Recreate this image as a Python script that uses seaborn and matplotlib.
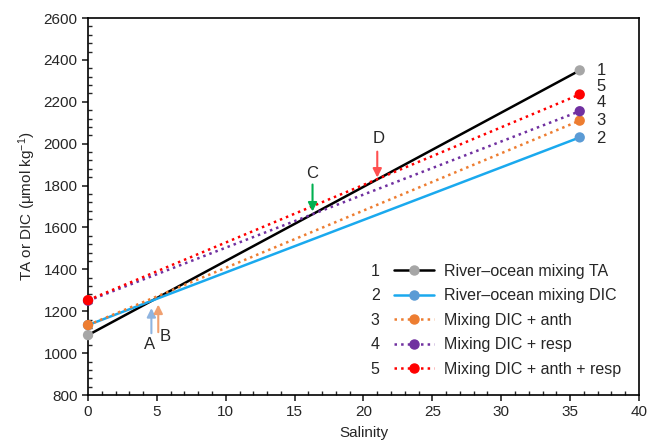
import pandas as pd
import matplotlib.pyplot as plt
import seaborn as sns
from matplotlib.lines import Line2D
from matplotlib.ticker import MultipleLocator

# End-member values (salinity 0 and ~35.7)
salinity = [0, 35.7]
ta = [1086, 2350]
dic = [1134, 2030]
dic_anth = [1134, 2110]
dic_resp = [1250, 2155]
dic_anth_resp = [1253, 2235]

series_names = ["River\u2013ocean mixing TA", "River\u2013ocean mixing DIC",
                "Mixing DIC + anth", "Mixing DIC + resp", "Mixing DIC + anth + resp"]
series_numbers = ["1", "2", "3", "4", "5"]
line_colors = ["#000000", "#1aa9ee", "#ed7d31", "#7030a0", "#ff0000"]
marker_colors = ["#a6a6a6", "#5b9bd5", "#ed7d31", "#7030a0", "#ff0000"]
dotted = [False, False, True, True, True]
# where the number next to each line end sits
end_label_y = [2348, 2027, 2112, 2196, 2272]

# arrows: label, x, y tail, y tip, label x, label y, colour
arrow_labels = ["A", "B", "C", "D"]
arrow_x = [4.6, 5.1, 16.3, 21.0]
arrow_tail = [1095, 1100, 1805, 1962]
arrow_tip = [1215, 1232, 1676, 1838]
label_x = [4.5, 5.6, 16.3, 21.1]
label_y = [1040, 1077, 1858, 2027]
arrow_colors = ["#8fb4e0", "#f0a070", "#00b050", "#ff5050"]

rows = []
for name, vals in zip(series_names, [ta, dic, dic_anth, dic_resp, dic_anth_resp]):
    for s, v in zip(salinity, vals):
        rows.append({"Salinity": s, "value": v, "series": name})
df = pd.DataFrame(rows)

sns.set_style("ticks")
plt.rcParams['font.family'] = ['Liberation Sans', 'DejaVu Sans']
plt.rcParams['mathtext.fontset'] = 'custom'
plt.rcParams['mathtext.rm'] = 'Liberation Sans'
plt.rcParams['mathtext.it'] = 'Liberation Sans:italic'

fig = plt.figure(figsize=(6.54, 4.47), dpi=100)
ax = fig.add_axes([0.1346, 0.1163, 0.8424, 0.8434])

dashes = {n: ((1, 1.6) if d else "") for n, d in zip(series_names, dotted)}
sns.lineplot(data=df, x="Salinity", y="value", hue="series", style="series",
             hue_order=series_names, style_order=series_names,
             palette=dict(zip(series_names, line_colors)), dashes=dashes,
             linewidth=1.8, legend=False, ax=ax)
sns.scatterplot(data=df, x="Salinity", y="value", hue="series", hue_order=series_names,
                palette=dict(zip(series_names, marker_colors)), s=55,
                edgecolor="none", legend=False, ax=ax, zorder=5, clip_on=False)

# numbers at the line ends
for num, v in zip(series_numbers, end_label_y):
    ax.text(36.9, v, num, fontsize=12, va="center", ha="left")

for lab, x, yt, yh, lx, ly, c in zip(arrow_labels, arrow_x, arrow_tail, arrow_tip,
                                     label_x, label_y, arrow_colors):
    ax.annotate("", xy=(x, yh), xytext=(x, yt),
                arrowprops=dict(arrowstyle="-|>", color=c, lw=1.5, mutation_scale=13,
                                shrinkA=0, shrinkB=0))
    ax.text(lx, ly, lab, fontsize=12, ha="center", va="center")

ax.set_xlim(0, 40)
ax.set_ylim(800, 2600)
ax.xaxis.set_major_locator(MultipleLocator(5))
ax.xaxis.set_minor_locator(MultipleLocator(1))
ax.yaxis.set_major_locator(MultipleLocator(200))
ax.yaxis.set_minor_locator(MultipleLocator(40))
ax.tick_params(which="major", direction="out", length=4, width=1.2, labelsize=11)
ax.tick_params(which="minor", direction="in", length=3, width=1.0)
for sp in ax.spines.values():
    sp.set_linewidth(1.2)
    sp.set_color("black")
ax.set_xlabel("Salinity", fontsize=11, labelpad=5)
ax.set_ylabel("TA or DIC (\u03bcmol kg$^{-1}$)", fontsize=11)

handles = [Line2D([0], [0], color=lc, linestyle=(":" if d else "-"), lw=1.8,
                  marker="o", markersize=6.5, markerfacecolor=mc, markeredgecolor=mc)
           for lc, mc, d in zip(line_colors, marker_colors, dotted)]
leg = ax.legend(handles, series_names, loc="lower right", bbox_to_anchor=(0.993, 0.01),
                frameon=False, fontsize=11.5, handlelength=2.5, labelspacing=0.6,
                handletextpad=0.6)

fig.canvas.draw()
inv = fig.transFigure.inverted()
for num, line, txt in zip(series_numbers, leg.get_lines(), leg.get_texts()):
    bb_t = txt.get_window_extent()
    xd = line.get_window_extent().x0
    yc = (bb_t.y0 + bb_t.y1) / 2
    fx, fy = inv.transform((xd - 10, yc))
    fig.text(fx, fy, num, fontsize=11.5, ha="right", va="center")

fig.savefig("out.png", dpi=100)
